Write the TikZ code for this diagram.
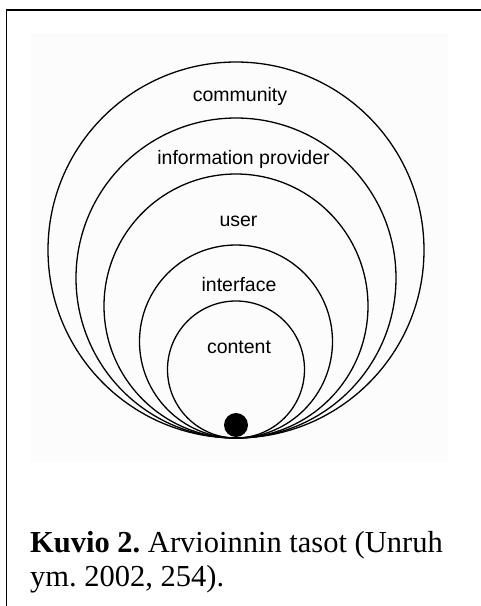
\documentclass[tikz,border=0pt]{standalone}
\usepackage{fontspec}
\setmainfont{Liberation Serif}
\newfontfamily\arialish{Liberation Sans}
\usetikzlibrary{positioning}
\tikzset{
  ring/.style={circle,draw,line width=1.3pt,minimum size=#1,inner sep=0pt,outer sep=0pt,anchor=south},
  hubdot/.style={circle,fill=black,minimum size=24pt,inner sep=0pt},
  lbl/.style={anchor=base,inner sep=0pt,font=\arialish\fontsize{19.5}{22}\selectfont},
  capt/.style={anchor=base west,inner sep=0pt,font=\frenchspacing\fontsize{30.5}{34}\selectfont},
  frame/.style={line width=1.6pt}
}
\begin{document}
\begin{tikzpicture}[x=1pt,y=-1pt]
\useasboundingbox (0,0) rectangle (480,606);
\fill[white] (0,0) rectangle (480,606);
% scanned area
\fill[black!1] (31,33) rectangle (448,462);
\draw[frame] (482,10) -- (6.5,10) -- (6.5,608);
% rings, all touching at the bottom
\coordinate (tp) at (236,438);
\node[ring=376pt] (community) at (tp) {};
\node[ring=320pt] (provider) at (tp) {};
\node[ring=264pt] (user) at (tp) {};
\node[ring=193pt] (interface) at (tp) {};
\node[ring=137pt] (content) at (tp) {};
\node[hubdot] (hub) at (236,425) {};
\node[lbl] (lcommunity) at (240,101) {community};
\node[lbl] (lprovider) at (243.5,164) {information provider};
\node[lbl] (luser) at (238.5,226) {user};
\node[lbl] (linterface) at (239,291) {interface};
\node[lbl] (lcontent) at (239,353) {content};
% caption
\node[capt] (cap1) at (30,552) {\textbf{Kuvio 2.} Arvioinnin tasot (Unruh};
\node[capt] (cap2) at ([yshift=-34pt]cap1.base west) {ym. 2002, 254).};
\end{tikzpicture}
\end{document}
